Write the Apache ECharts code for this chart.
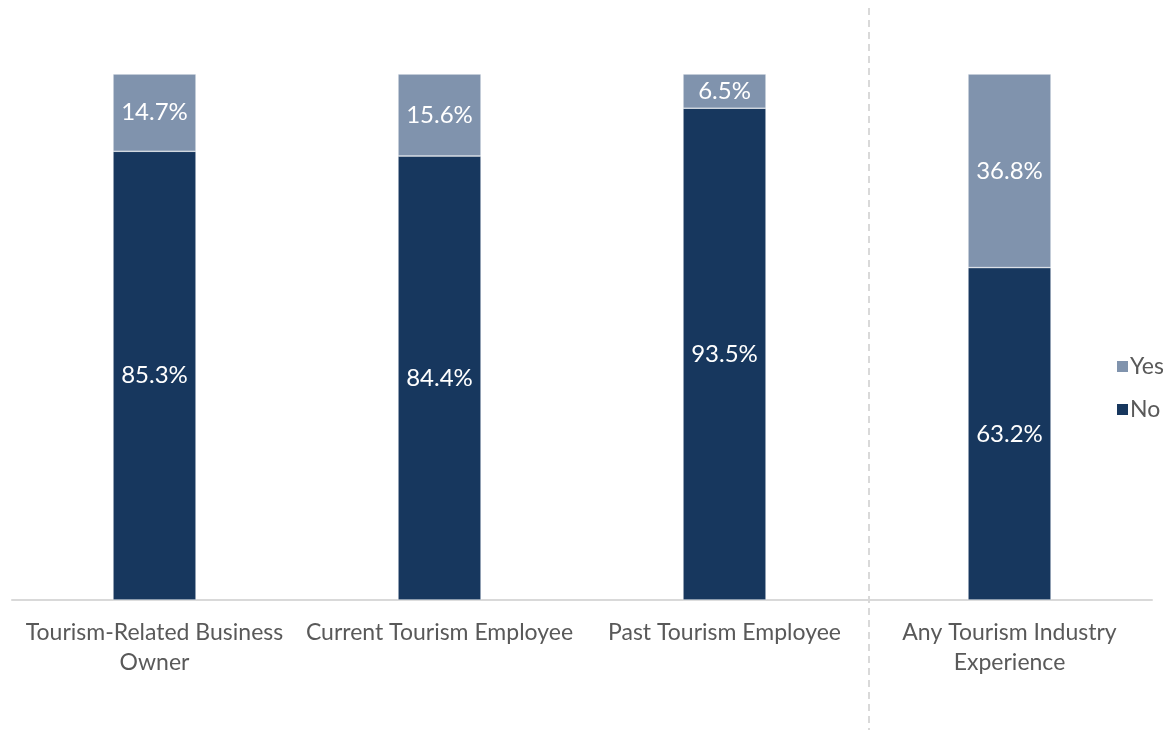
<!DOCTYPE html>
<html>
<head>
<meta charset="utf-8">
<script src="https://cdn.jsdelivr.net/npm/echarts@6/dist/echarts.min.js"></script>
<style>
  html, body { margin: 0; padding: 0; background: #fff; }
  #main { width: 1163px; height: 730px; }
</style>
</head>
<body>
<div id="main"></div>
<script>
// data
var categories = ['Tourism-Related Business\nOwner', 'Current Tourism Employee', 'Past Tourism Employee', 'Any Tourism Industry\nExperience'];
var noValues = [85.3, 84.4, 93.5, 63.2];
var yesValues = [14.7, 15.6, 6.5, 36.8];

var FONT = 'Lato';

var myChart = echarts.init(document.getElementById('main'));

var barLabel = {
  show: true,
  position: 'inside',
  color: '#fff',
  fontSize: 24,
  fontFamily: FONT,
  formatter: function (p) { return p.value.toFixed(1) + '%'; }
};

var option = {
  animation: false,
  grid: { left: 12, right: 11, top: 74, bottom: 130, containLabel: false },
  legend: {
    orient: 'vertical',
    left: 1110,
    top: 350,
    itemWidth: 13,
    itemHeight: 13,
    itemGap: 20,
    icon: 'rect',
    data: ['Yes', 'No'],
    textStyle: { fontSize: 23, color: '#595959', fontFamily: FONT, padding: [0, 0, 0, -4] }
  },
  xAxis: {
    type: 'category',
    data: categories,
    axisLine: { lineStyle: { color: '#d9d9d9', width: 2 } },
    axisTick: { show: false },
    axisLabel: {
      interval: 0,
      margin: 18,
      color: '#595959',
      fontSize: 23,
      lineHeight: 30,
      fontFamily: FONT
    }
  },
  yAxis: {
    type: 'value',
    min: 0,
    max: 100,
    show: false
  },
  series: [
    {
      name: 'No',
      type: 'bar',
      stack: 'total',
      barWidth: 83,
      data: noValues,
      itemStyle: { color: '#17375e', borderColor: '#fff', borderWidth: 0.5 },
      label: barLabel
    },
    {
      name: 'Yes',
      type: 'bar',
      stack: 'total',
      barWidth: 83,
      data: yesValues,
      itemStyle: { color: '#8093ad', borderColor: '#fff', borderWidth: 0.5 },
      label: barLabel
    }
  ],
  graphic: [
    {
      type: 'line',
      shape: { x1: 869, y1: 8, x2: 869, y2: 730 },
      style: { stroke: '#d9d9d9', lineWidth: 2, lineDash: [7, 5] },
      silent: true
    }
  ]
};
myChart.setOption(option);
</script>
</body>
</html>
